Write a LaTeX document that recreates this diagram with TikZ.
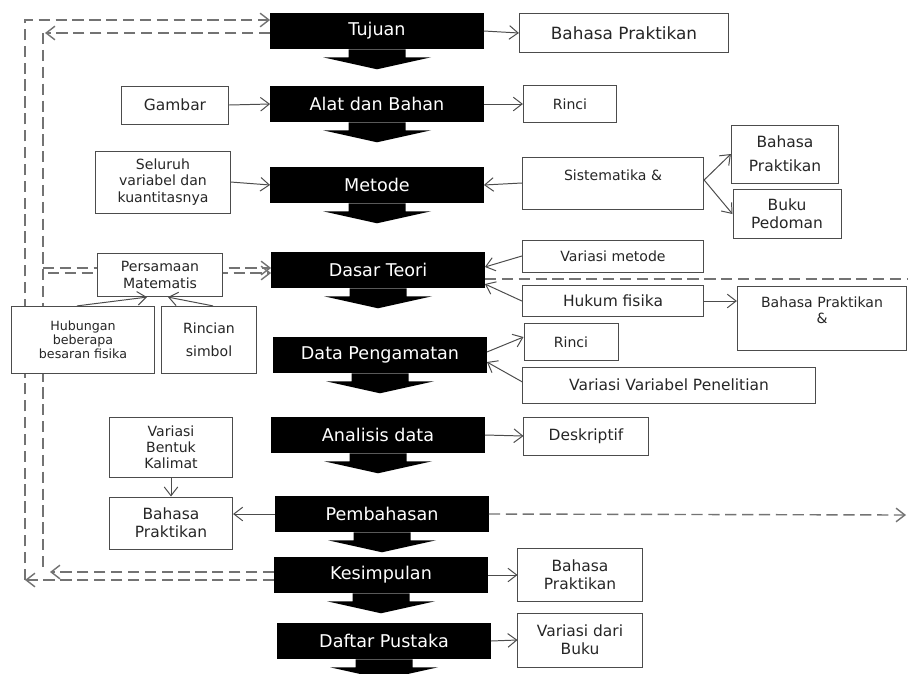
\documentclass[tikz,border=0pt]{standalone}
\usepackage{fontspec}
\setmainfont{DejaVu Sans}
\usetikzlibrary{arrows.meta,calc}

\begin{document}
\begin{tikzpicture}[x=0.025cm,y=-0.025cm,
  mainbox/.style={fill=black,text=white,minimum width=5.33cm,minimum height=0.9cm,inner sep=0pt,font=\fontsize{12.5}{14}\selectfont},
  notebox/.style={draw=black!70,fill=white,line width=0.7pt,align=center,inner sep=1pt,text=black!85,font=\fontsize{11}{13}\selectfont},
  smallnote/.style={notebox,font=\fontsize{10}{11.5}\selectfont},
  tinynote/.style={notebox,font=\fontsize{9}{9.8}\selectfont},
  link/.style={draw=black!70,line width=0.7pt,-{Straight Barb[length=2.2mm,width=3.4mm]}},
  back/.style={draw=black!55,line width=1pt,dash pattern=on 8pt off 4pt},
  backtip/.style={back,-{Straight Barb[length=2.2mm,width=3.4mm]}},
  flowtip/.pic={\fill (-28.5,0) -- (-28.5,8) -- (-54,8) -- (0,20) -- (54,8) -- (28.5,8) -- (28.5,0) -- cycle;}]
\useasboundingbox[fill=white] (0,0) rectangle (908,673);
\node[mainbox] (tujuan) at (377,31) {Tujuan};
\node[mainbox] (alat) at (377,104) {Alat dan Bahan};
\node[mainbox] (metode) at (377,185) {Metode};
\node[mainbox] (dasar) at (378,270) {Dasar Teori};
\node[mainbox] (data) at (380,355) {Data Pengamatan};
\node[mainbox] (analisis) at (378,435) {Analisis data};
\node[mainbox] (pembahasan) at (382,514) {Pembahasan};
\node[mainbox] (kesimpulan) at (381,575) {Kesimpulan};
\node[mainbox] (daftar) at (384,641) {Daftar Pustaka};
\pic at (tujuan.south) {flowtip};
\pic at (alat.south) {flowtip};
\pic at (metode.south) {flowtip};
\pic at (dasar.south) {flowtip};
\pic at (data.south) {flowtip};
\pic at (analisis.south) {flowtip};
\pic at (pembahasan.south) {flowtip};
\pic at (kesimpulan.south) {flowtip};
\pic at (daftar.south) {flowtip};
\coordinate (outertop) at (25,20);
\coordinate (outerbot) at (25,580);
\coordinate (innertop) at (43,33);
\coordinate (innerbot) at (43,572);
\coordinate (innermid) at (43,268);
\coordinate (rightedge) at (915,279);
\coordinate (rightend) at (906,515);
\draw[backtip] ($(kesimpulan.west)+(0,5)$) -- (outerbot);
\draw[backtip] (outerbot) -- (outertop) -- ($(tujuan.west)+(0,-11)$);
\draw[backtip] ($(tujuan.west)+(0,2)$) -- ($(innertop)+(2,0)$);
\draw[back] (innertop) -- (innerbot);
\draw[backtip] ($(kesimpulan.west)+(0,-3)$) -- ($(innerbot)+(7,0)$);
\draw[backtip] (innermid) -- (innermid -| dasar.west);
\draw[backtip] ($(innermid)+(5,5)$) -- ($(innermid -| dasar.west)+(0,5)$);
\draw[back] ($(dasar.east)+(0,9)$) -- (rightedge);
\draw[backtip] (pembahasan.east) -- (rightend);
\node[notebox,font=\fontsize{12}{14}\selectfont,minimum width=5.23cm,minimum height=0.98cm] (bp1) at (624,33) {Bahasa Praktikan};
\node[smallnote,minimum width=2.33cm,minimum height=0.93cm] (rinci1) at (570,104) {Rinci};
\node[smallnote,minimum width=4.53cm,minimum height=1.3cm] (sistem) at (613,183) {Sistematika \&\\~};
\node[notebox,minimum width=2.68cm,minimum height=1.45cm] (bp2) at (785,154) {Bahasa\\[4pt]Praktikan};
\node[notebox,minimum width=2.7cm,minimum height=1.23cm] (buku) at (787,214) {Buku\\Pedoman};
\node[smallnote,minimum width=4.53cm,minimum height=0.8cm] (varmetode) at (613,256) {Variasi metode};
\node[notebox,minimum width=4.53cm,minimum height=0.78cm] (hukum) at (613,301) {Hukum fisika};
\node[smallnote,minimum width=4.23cm,minimum height=1.6cm] (bp3) at (822,318) {Bahasa Praktikan\\\&\\~};
\node[smallnote,minimum width=2.35cm,minimum height=0.93cm] (rinci2) at (571,342) {Rinci};
\node[notebox,minimum width=7.3cm,minimum height=0.9cm] (varvar) at (669,385) {Variasi Variabel Penelitian};
\node[notebox,minimum width=3.1cm,minimum height=0.95cm] (deskriptif) at (586,436) {Deskriptif};
\node[notebox,minimum width=3.1cm,minimum height=1.33cm] (bp4) at (580,575) {Bahasa\\Praktikan};
\node[notebox,minimum width=3.1cm,minimum height=1.35cm] (varbuku) at (580,640) {Variasi dari\\Buku};
\node[notebox,minimum width=2.68cm,minimum height=0.95cm] (gambar) at (175,105) {Gambar};
\node[smallnote,minimum width=3.35cm,minimum height=1.55cm] (seluruh) at (163,182) {Seluruh\\variabel dan\\kuantitasnya};
\node[smallnote,minimum width=3.13cm,minimum height=1.08cm] (persamaan) at (160,275) {Persamaan\\Matematis};
\node[tinynote,minimum width=3.55cm,minimum height=1.68cm] (hubungan) at (83,340) {Hubungan\\beberapa\\besaran fisika};
\node[smallnote,minimum width=2.38cm,minimum height=1.68cm] (rincian) at (209,340) {Rincian\\[5pt]simbol};
\node[smallnote,minimum width=3.08cm,minimum height=1.5cm] (varkal) at (171,447) {Variasi\\Bentuk\\Kalimat};
\node[notebox,minimum width=3.08cm,minimum height=1.3cm] (bp5) at (171,523) {Bahasa\\Praktikan};
\draw[link] (tujuan.east) -- (bp1.west);
\draw[link] (alat.east) -- (rinci1.west);
\draw[link] (gambar.east) -- (alat.west);
\draw[link] (seluruh.east) -- (metode.west);
\draw[link] (sistem.west) -- (metode.east);
\draw[link] ($(sistem.east)+(0,-3)$) -- (bp2.west);
\draw[link] ($(sistem.east)+(0,-3)$) -- (buku.west);
\draw[link] (varmetode.west) -- ($(dasar.east)+(0,-3)$);
\draw[link] (hukum.west) -- ($(dasar.east)+(0,14)$);
\draw[link] (hukum.east) -- (hukum.east -| bp3.west);
\draw[link] ($(data.east)+(0,-3)$) -- ($(rinci2.west)+(0,-5)$);
\draw[link] ($(varvar.west)+(0,-3)$) -- ($(data.east)+(0,7)$);
\draw[link] (analisis.east) -- (deskriptif.west);
\draw[link] (pembahasan.west) -- (pembahasan.west -| bp5.east);
\draw[link] (varkal.south) -- (bp5.north);
\draw[link] ($(hubungan.north)+(-6,0)$) -- ($(persamaan.south)+(-13,0)$);
\draw[link] ($(rincian.north)+(4,0)$) -- ($(persamaan.south)+(8,0)$);
\draw[link] (kesimpulan.east) -- (bp4.west);
\draw[link] (daftar.east) -- (varbuku.west);
\end{tikzpicture}
\end{document}
